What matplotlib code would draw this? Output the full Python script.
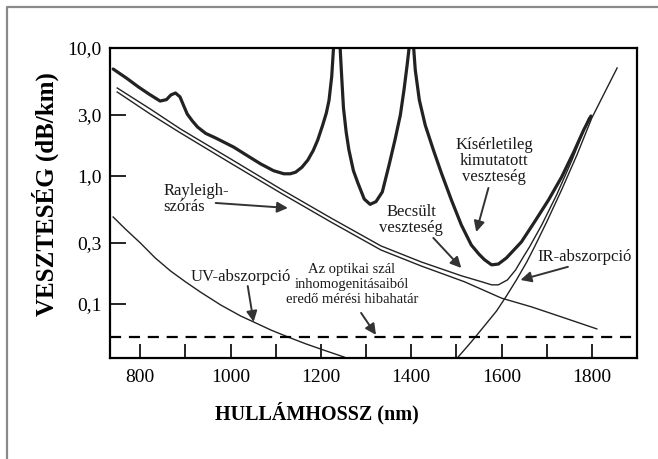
import matplotlib
matplotlib.use("Agg")
import matplotlib.pyplot as plt
from matplotlib.lines import Line2D
from matplotlib.ticker import FixedLocator, FixedFormatter

plt.rcParams['font.family'] = ['Liberation Serif', 'DejaVu Serif']

# ---- data (wavelength in nm, loss in dB/km) ----
exp_left_nm = [740, 770, 796, 820, 844, 858, 868, 878, 888, 896, 904, 915, 927, 945, 967, 1007, 1040, 1067,
               1095, 1118, 1132, 1144, 1158, 1171, 1183, 1193, 1204, 1212, 1218, 1224, 1229, 1237]
exp_left_db = [6.85, 5.8, 4.96, 4.35, 3.85, 3.95, 4.3, 4.45, 4.15, 3.55, 3.05, 2.7, 2.41, 2.15, 1.98, 1.68,
               1.42, 1.24, 1.10, 1.04, 1.04, 1.07, 1.17, 1.33, 1.58, 1.91, 2.50, 3.1, 3.9, 6.0, 11.5, 30]
exp_mid_nm = [1237, 1242, 1246, 1250, 1256, 1262, 1272, 1282, 1296, 1309, 1322, 1336, 1351, 1364, 1376,
              1384, 1391, 1396, 1401]
exp_mid_db = [30, 11.0, 6.0, 3.4, 2.2, 1.6, 1.1, 0.88, 0.66, 0.60, 0.63, 0.75, 1.22, 1.91, 3.0, 4.7, 7.37,
              10.5, 30]
exp_right_nm = [1401, 1405, 1409, 1418, 1431, 1449, 1467, 1489, 1511, 1533, 1550, 1562, 1578, 1593, 1611,
                1644, 1673, 1704, 1733, 1760, 1782, 1798]
exp_right_db = [30, 10.5, 6.73, 3.92, 2.50, 1.60, 1.05, 0.649, 0.414, 0.289, 0.245, 0.222, 0.202, 0.205,
                0.229, 0.305, 0.437, 0.649, 0.98, 1.54, 2.29, 2.94]

est_nm = [749, 822, 889, 1000, 1111, 1222, 1333, 1422, 1511, 1556, 1578, 1593, 1613, 1631, 1647, 1662,
          1689, 1722, 1756, 1778, 1793]
est_db = [4.87, 3.34, 2.33, 1.36, 0.791, 0.470, 0.284, 0.213, 0.166, 0.149, 0.141, 0.141, 0.154, 0.184,
          0.229, 0.279, 0.414, 0.711, 1.33, 2.09, 2.84]

ray_nm = [749, 822, 889, 1000, 1111, 1222, 1333, 1422, 1518, 1600, 1667, 1733, 1811]
ray_db = [4.53, 3.05, 2.17, 1.26, 0.736, 0.437, 0.264, 0.198, 0.149, 0.111, 0.0947, 0.0791, 0.0638]

ir_nm = [1500, 1504, 1533, 1562, 1589, 1611, 1633, 1656, 1673, 1700, 1733, 1767, 1800, 1829, 1856]
ir_db = [0.036, 0.0385, 0.0505, 0.0673, 0.0881, 0.1155, 0.154, 0.213, 0.279, 0.437, 0.778, 1.46, 2.84,
         4.53, 6.98]

uv_nm = [740, 767, 800, 833, 867, 900, 933, 978, 1022, 1051, 1089, 1127, 1167, 1211, 1251, 1260]
uv_db = [0.478, 0.385, 0.300, 0.229, 0.181, 0.149, 0.124, 0.0982, 0.0806, 0.0723, 0.0626, 0.0552,
         0.0487, 0.0430, 0.0385, 0.037]

error_limit_db = 0.0552

y_ticks = [0.1, 0.3, 1.0, 3.0, 10.0]
y_tick_labels = ["0,1", "0,3", "1,0", "3,0", "10,0"]
x_major = [800, 1000, 1200, 1400, 1600, 1800]
x_minor = [900, 1100, 1300, 1500, 1700]

W, H = 658, 459
fig = plt.figure(figsize=(W / 100, H / 100), dpi=100)
ax = fig.add_axes([110 / W, 1 - 358 / H, (637 - 110) / W, (358 - 48) / H])
ax.set_yscale('log')
ax.set_xlim(733, 1900)
ax.set_ylim(0.0378, 10.0)

ink = '#222222'
thin = 1.0
for xs, ys in [(exp_left_nm, exp_left_db), (exp_mid_nm, exp_mid_db), (exp_right_nm, exp_right_db)]:
    ax.plot(xs, ys, color=ink, lw=2.3, solid_capstyle='round', solid_joinstyle='round')
ax.plot(est_nm, est_db, color=ink, lw=thin)
ax.plot(ray_nm, ray_db, color=ink, lw=thin)
ax.plot(ir_nm, ir_db, color=ink, lw=thin)
ax.plot(uv_nm, uv_db, color=ink, lw=thin)
ax.axhline(error_limit_db, color='black', lw=1.6, dashes=(5, 3.5))

# axes styling
for s in ax.spines.values():
    s.set_linewidth(1.6)
    s.set_color('black')
ax.yaxis.set_major_locator(FixedLocator(y_ticks))
ax.yaxis.set_major_formatter(FixedFormatter(y_tick_labels))
ax.yaxis.set_minor_locator(FixedLocator([]))
ax.xaxis.set_major_locator(FixedLocator(x_major))
ax.xaxis.set_minor_locator(FixedLocator(x_minor))
ax.tick_params(axis='y', which='major', direction='in', length=11.5, width=1.2, labelsize=14, pad=6)
ax.tick_params(axis='x', which='major', direction='in', length=10, width=1.2, labelsize=14, pad=8)
ax.tick_params(axis='x', which='minor', direction='in', length=10, width=1.2)

# annotations
fs = 12
txt = '#1a1a1a'
ax.text(851, 0.661, "Rayleigh-\nszórás", fontsize=fs, ha='left', va='center', linespacing=1.05, color=txt)
ax.text(1400, 0.453, "Becsült\nveszteség", fontsize=fs, ha='center', va='center', linespacing=1.0, color=txt)
ax.text(1584, 1.31, "Kísérletileg\nkimutatott\nveszteség", fontsize=fs, ha='center', va='center',
        linespacing=1.0, color=txt)
ax.text(1784, 0.233, "IR-abszorpció", fontsize=fs, ha='center', va='center', color=txt)
ax.text(1022, 0.163, "UV-abszorpció", fontsize=fs, ha='center', va='center', color=txt)
ax.text(1269, 0.141, "Az optikai szál\ninhomogenitásaiból\neredő mérési hibahatár", fontsize=10.5,
        ha='center', va='center', linespacing=1.2, color=txt)

aprops = dict(arrowstyle='-|>', mutation_scale=16, lw=1.4, color='#333333', shrinkA=0, shrinkB=0)
arrows = [((967, 0.615), (1127, 0.562)),
          ((1449, 0.328), (1511, 0.191)),
          ((1571, 0.806), (1544, 0.365)),
          ((1747, 0.195), (1642, 0.154)),
          ((1038, 0.138), (1051, 0.0723)),
          ((1289, 0.0851), (1322, 0.0573))]
for tail, tip in arrows:
    ax.annotate("", xy=tip, xytext=tail, arrowprops=aprops)

fig.text(45 / W, 1 - 194 / H, "VESZTESÉG (dB/km)", rotation=90, fontsize=18, fontweight='bold',
         ha='center', va='center')
fig.text(317 / W, 1 - 413 / H, "HULLÁMHOSSZ (nm)", fontsize=14.5, fontweight='bold',
         ha='center', va='center')

# outer frame (partially visible)
fig.add_artist(Line2D([7 / W, 7 / W, 1.0], [0.0, 1 - 7 / H, 1 - 7 / H], transform=fig.transFigure,
                      color='#8a8a8a', lw=1.6))

fig.savefig("out.png", dpi=100)
